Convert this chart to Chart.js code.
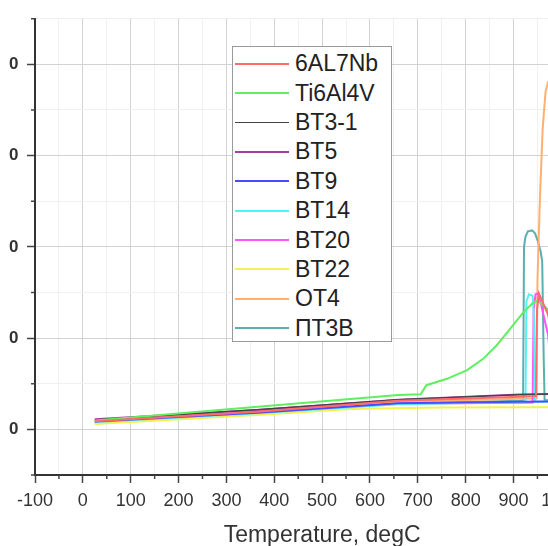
<!DOCTYPE html>
<html>
<head>
<meta charset="utf-8">
<script src="https://cdn.jsdelivr.net/npm/chart.js@4.4.0/dist/chart.umd.min.js"></script>
<style>
    html, body { margin: 0; padding: 0; background: #fff; width: 548px; height: 546px; overflow: hidden; }
    /* the reference is a crop of a bigger chart: left of the y labels, right end and bottom are cut */
    #clip { position: absolute; left: 9px; top: 0; width: 539px; height: 546px; overflow: hidden; }
    #wrap { position: absolute; left: -39px; top: 0; width: 670px; height: 556px; }
    #legend {
        position: absolute; left: 232px; top: 46px; width: 158px; height: 292px;
        padding-top: 2px; background: #fff; border: 1px solid #9a9a9a;
        font-family: "Liberation Sans", Arial, sans-serif; font-size: 23px; color: #222;
    }
    #legend .row { height: 29.4px; display: flex; align-items: center; }
    #legend .swatch { width: 54px; margin-left: 2px; margin-right: 6px; }
</style>
</head>
<body>
<div id="clip"><div id="wrap"><canvas id="chart" width="670" height="556"></canvas></div></div>
<div id="legend"></div>
<script>
// Series names / colours (legend order)
const seriesNames = ['6AL7Nb', 'Ti6Al4V', 'BT3-1', 'BT5', 'BT9', 'BT14', 'BT20', 'BT22', 'OT4', 'ПТ3В'];
const seriesColors = ['#ff6a6a', '#5fef5f', '#444444', '#a040a0', '#4a4aff', '#55f2f2', '#ff55ff', '#f2f250', '#ffb070', '#5aafaf'];
const seriesWidths = [2, 2, 1.2, 2, 2, 2, 2, 2, 2, 2];

// Temperature (degC) / value pairs
const t6AL7Nb = [25, 372, 659, 913, 947, 949, 953, 958, 972, 990, 1010, 1100];
const v6AL7Nb = [545, 598, 657, 679, 682, 1150, 1245, 1215, 1130, 900, 690, 695];

const tTi6Al4V = [25, 372, 659, 706, 718, 761, 803, 836, 865, 892, 920, 941, 951, 972, 1000, 1100];
const vTi6Al4V = [548, 625, 688, 692, 742, 777, 825, 885, 961, 1048, 1140, 1194, 1205, 1156, 900, 760];

const tBT3 = [25, 372, 659, 913, 1100];
const vBT3 = [552, 610, 663, 690, 697];

const tBT5 = [25, 372, 659, 913, 1100];
const vBT5 = [556, 607, 662, 691, 700];

const tBT9 = [25, 372, 659, 913, 1100];
const vBT9 = [543, 592, 643, 652, 656];

const tBT14 = [25, 372, 659, 913, 925, 927, 932, 940, 943, 945, 1100];
const vBT14 = [540, 590, 638, 650, 651, 1200, 1240, 1232, 1100, 652, 660];

const tBT20 = [25, 372, 659, 913, 940, 942, 946, 952, 958, 972, 985, 1100];
const vBT20 = [548, 595, 640, 646, 647, 1150, 1240, 1245, 1180, 1020, 700, 660];

const tBT22 = [25, 372, 560, 750, 1100];
const vBT22 = [530, 580, 612, 620, 622];

const tOT4 = [25, 372, 659, 913, 948, 950, 955, 961, 967, 972, 982, 1000, 1100];
const vOT4 = [532, 598, 652, 668, 669, 1300, 1750, 2150, 2350, 2400, 2380, 1500, 700];

const tPT3V = [25, 372, 659, 913, 920, 922, 925, 930, 939, 945, 951, 957, 960, 963, 965, 1100];
const vPT3V = [538, 594, 642, 657, 658, 1500, 1555, 1585, 1590, 1574, 1530, 1470, 1420, 900, 660, 665];

const seriesT = [t6AL7Nb, tTi6Al4V, tBT3, tBT5, tBT9, tBT14, tBT20, tBT22, tOT4, tPT3V];
const seriesV = [v6AL7Nb, vTi6Al4V, vBT3, vBT5, vBT9, vBT14, vBT20, vBT22, vOT4, vPT3V];

// Axis ranges (major ticks every 100 / 500, minor halfway)
const xMin = -100, xMax = 1100, xStep = 50, xMajor = 100;
const yMin = 250, yMax = 2750, yStep = 250, yMajor = 500;

const FONT = '"Liberation Sans", Arial, sans-serif';

const datasets = seriesNames.map((name, i) => ({
    label: name,
    data: seriesT[i].map((t, j) => ({ x: t, y: seriesV[i][j] })),
    borderColor: seriesColors[i],
    borderWidth: seriesWidths[i],
    pointRadius: 0,
    tension: 0,
    fill: false
}));

// short minor tick marks (Chart.js has one tick length only)
const minorTicks = {
    id: 'minorTicks',
    afterDraw(chart) {
        const { ctx, scales: { x, y } } = chart;
        ctx.save();
        ctx.strokeStyle = '#444';
        ctx.lineWidth = 1.5;
        ctx.beginPath();
        x.ticks.forEach(t => {
            if (t.value % xMajor === 0) return;
            const px = x.getPixelForValue(t.value);
            ctx.moveTo(px, x.top);
            ctx.lineTo(px, x.top + 4);
        });
        y.ticks.forEach(t => {
            if (t.value % yMajor === 0) return;
            const py = y.getPixelForValue(t.value);
            ctx.moveTo(y.right, py);
            ctx.lineTo(y.right - 4, py);
        });
        ctx.stroke();
        ctx.restore();
    }
};

new Chart(document.getElementById('chart').getContext('2d'), {
    type: 'line',
    data: { datasets },
    options: {
        responsive: false,
        animation: false,
        layout: { padding: { top: 13, left: 0, right: 30.8, bottom: 0 } },
        plugins: {
            legend: { display: false },
            tooltip: { enabled: false }
        },
        scales: {
            x: {
                type: 'linear',
                min: xMin,
                max: xMax,
                afterFit: (scale) => { scale.height = 81; },
                border: { color: '#333', width: 2 },
                grid: {
                    color: (c) => c.tick && c.tick.value % xMajor === 0 ? '#d2d2d2' : '#f0f0f0',
                    tickColor: (c) => c.tick && c.tick.value % xMajor === 0 ? '#444' : 'rgba(0,0,0,0)',
                    tickLength: 8,
                    tickWidth: 1.5
                },
                ticks: {
                    stepSize: xStep,
                    maxTicksLimit: 100,
                    autoSkip: false,
                    maxRotation: 0,
                    padding: 7,
                    color: '#333',
                    font: { family: FONT, size: 18 },
                    callback: (v) => v % xMajor === 0 ? String(v) : ''
                },
                title: {
                    display: true,
                    text: 'Temperature, degC',
                    color: '#333',
                    font: { family: FONT, size: 23 },
                    padding: { top: 0, bottom: 7 }
                }
            },
            y: {
                type: 'linear',
                min: yMin,
                max: yMax,
                afterFit: (scale) => { scale.width = 65; },
                border: { color: '#333', width: 2 },
                grid: {
                    color: (c) => c.tick && c.tick.value % yMajor === 0 ? '#d2d2d2' : '#f0f0f0',
                    tickColor: (c) => c.tick && c.tick.value % yMajor === 0 ? '#444' : 'rgba(0,0,0,0)',
                    tickLength: 8,
                    tickWidth: 1.5
                },
                ticks: {
                    stepSize: yStep,
                    maxTicksLimit: 100,
                    autoSkip: false,
                    padding: 8.5,
                    color: '#333',
                    font: { family: FONT, size: 17, weight: 'bold' },
                    callback: (v) => v % yMajor === 0 ? String(v) : ''
                }
            }
        }
    },
    plugins: [minorTicks]
});

// legend box drawn over the plot, like the original
const legend = document.getElementById('legend');
seriesNames.forEach((name, i) => {
    const row = document.createElement('div');
    row.className = 'row';
    const sw = document.createElement('span');
    sw.className = 'swatch';
    sw.style.borderTop = (seriesWidths[i] < 2 ? 1.5 : 2.5) + 'px solid ' + seriesColors[i];
    const label = document.createElement('span');
    label.textContent = name;
    row.appendChild(sw);
    row.appendChild(label);
    legend.appendChild(row);
});
</script>
</body>
</html>
